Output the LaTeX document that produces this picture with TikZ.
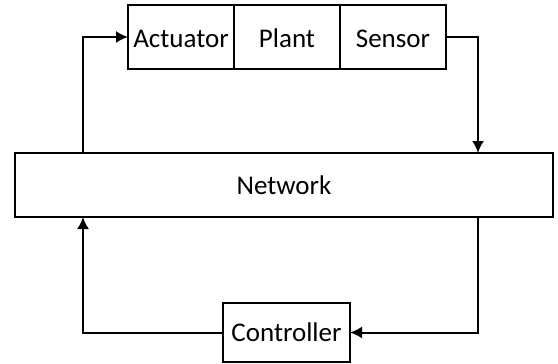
\documentclass[tikz,border=0pt]{standalone}
\usepackage{fontspec}
\setmainfont{Carlito}
\usetikzlibrary{positioning,calc,arrows.meta}
\tikzset{
  blk/.style={draw, line width=1pt, inner sep=0pt, outer sep=0pt,
    font=\fontsize{13.5}{16}\selectfont},
  plantblk/.style={blk, minimum width=53pt, minimum height=32pt,
    text height=1.05em, text depth=0pt}
}
\begin{document}
\begin{tikzpicture}[x=0.5pt, y=-0.5pt, >={Latex[length=6pt,width=6pt]}, line width=1pt]
        \useasboundingbox (0,0) rectangle (558,364);
        % Define blocks
        \node[plantblk] (act) at (181,37) {Actuator};
        \node[plantblk, right=0pt of act] (plant) {Plant};
        \node[plantblk, right=0pt of plant] (sen) {Sensor};
        \node[blk, minimum width=269pt, minimum height=32pt] (net) at (284,185) {Network};
        \node[blk, minimum width=63.5pt, minimum height=29.5pt] (ctrl) at (286.5,332.5) {Controller};
        
        % Draw links
        \draw[->] ($(net.north west)+(68,0)$) |- (act.west);
        \draw[->] (sen.east) -| ($(net.north east)+(-75,0)$);
        \draw[->] ($(net.south east)+(-75,0)$) |- (ctrl.east);
        \draw[->] (ctrl.west) -| ($(net.south west)+(68,0)$);
    \end{tikzpicture}
\end{document}
